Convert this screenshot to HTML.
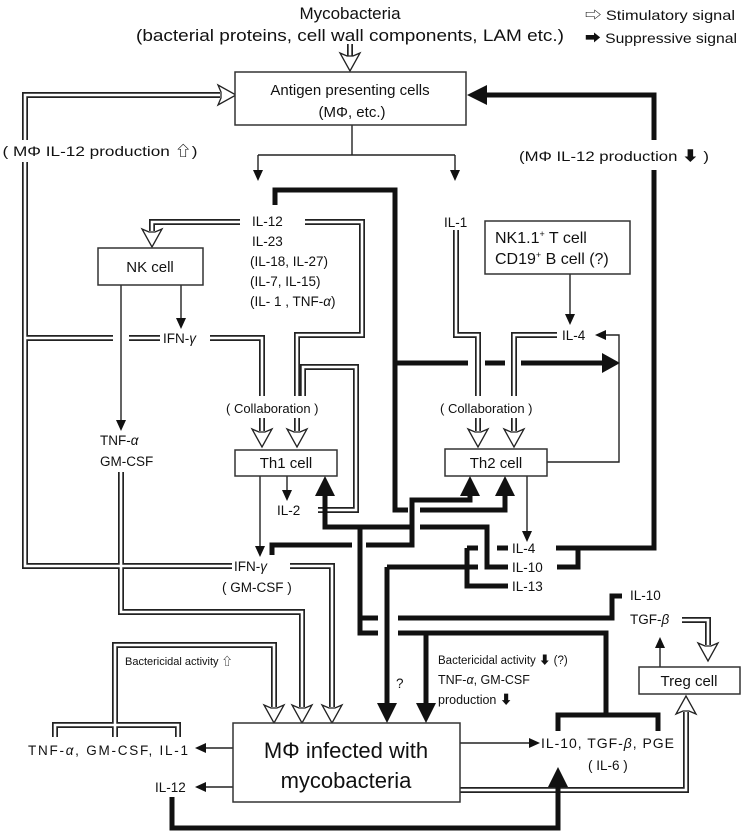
<!DOCTYPE html>
<html><head><meta charset="utf-8"><style>
html,body{margin:0;padding:0;background:#fff}
svg{display:block}
text{font-family:"Liberation Sans","Noto Sans CJK JP",sans-serif;fill:#111}
.db1{fill:none;stroke:#222;stroke-width:6}
.db2{fill:none;stroke:#fff;stroke-width:2.6}
.tk{fill:none;stroke:#111;stroke-width:5}
.tn{fill:none;stroke:#222;stroke-width:1.4}
.box{fill:#fff;stroke:#333;stroke-width:1.5}
.ha{fill:#fff;stroke:#222;stroke-width:1.3}
.fa{fill:#111}
</style></head><body>
<svg width="746" height="838" viewBox="0 0 746 838" xmlns="http://www.w3.org/2000/svg">
<defs>
<path id="A" d="M350 44V56"/>
<path id="B" d="M240 222H152V231"/>
<path id="C" d="M305 222H362V335H297V396M297 418V431"/>
<path id="D" d="M318 510H356V367H303V396"/>
<path id="E" d="M210 338H262V396M262 418V431"/>
<path id="F" d="M160 338H25M232 566H25V95H220"/>
<path id="G" d="M456 230V335H478V396M478 418V431"/>
<path id="H" d="M557 335H514V396M514 418V431"/>
<path id="I" d="M121 472V612H302V707"/>
<path id="J" d="M290 566H332V707"/>
<path id="K" d="M178 737V725H55V737M115 737V725M115 725V645H274V707"/>
<path id="L" d="M682 620H708V645"/>
<path id="M" d="M460 790H686V712"/>
</defs>
<g class="db1"><use href="#A"/><use href="#B"/><use href="#C"/><use href="#D"/><use href="#E"/><use href="#F"/><use href="#G"/><use href="#H"/><use href="#I"/><use href="#J"/><use href="#K"/><use href="#L"/><use href="#M"/></g>
<g class="db2"><use href="#A"/><use href="#B"/><use href="#C"/><use href="#D"/><use href="#E"/><use href="#F"/><use href="#G"/><use href="#H"/><use href="#I"/><use href="#J"/><use href="#K"/><use href="#L"/><use href="#M"/></g>
<rect x="2" y="140" width="198" height="22" fill="#fff"/>
<rect x="113" y="332" width="16" height="12" fill="#fff"/>

<g class="tk">
<path d="M275 205V190H395V510H408M420 510H505V490"/>
<path d="M395 363H468M485 363H505M521 363H606"/>
<path d="M325 492V527H410M420 527H487V567H508"/>
<path d="M272 555V545H352M366 545H412V500H470V492"/>
<path d="M360 527V633H378M360 618H378M398 618H612V596H622M398 633H606V715M558 731V715H658V731M426 633V706"/>
<path d="M387 567H478M387 567V706"/>
<path d="M467 548V586H508M467 548H478M497 548H508"/>
<path d="M556 548H654V170M654 140V95H485M557 567H578V548"/>
<path d="M172 797V828H558V785"/>
</g>
<g class="fa">
<polygon points="325,476 315,496 335,496"/>
<polygon points="505,476 495,496 515,496"/>
<polygon points="470,476 460,496 480,496"/>
<polygon points="620,363 602,353 602,373"/>
<polygon points="426,723 416,703 436,703"/>
<polygon points="387,723 377,703 397,703"/>
<polygon points="467,95 487,85 487,105"/>
<polygon points="558,767 548,787 568,787"/>
</g>

<g class="tn">
<path d="M352 125V155M258 155H455M258 155V174M455 155V174"/>
<path d="M181 285V322"/><path d="M121 285V424"/><path d="M570 274V318"/>
<path d="M547 462H619V335H602"/>
<path d="M287 476V494"/><path d="M260 476V550"/><path d="M527 476V535"/>
<path d="M233 748H202M233 787H202M460 743H532M660 667V644"/>
</g>
<g class="fa">
<polygon points="258,181 253,170 263,170"/><polygon points="455,181 450,170 460,170"/>
<polygon points="181,329 176,318 186,318"/><polygon points="121,431 116,420 126,420"/>
<polygon points="570,325 565,314 575,314"/><polygon points="595,335 606,330 606,340"/>
<polygon points="287,501 282,490 292,490"/><polygon points="260,557 255,546 265,546"/>
<polygon points="527,542 522,531 532,531"/>
<polygon points="195,748 206,743 206,753"/><polygon points="195,787 206,782 206,792"/>
<polygon points="540,743 529,738 529,748"/><polygon points="660,637 655,648 665,648"/>
</g>

<g class="ha">
<polygon points="340,53 347,56 353,56 360,53 350,71"/>
<polygon points="142,229 149,232 155,232 162,229 152,247"/>
<polygon points="252,429 259,432 265,432 272,429 262,447"/>
<polygon points="287,429 294,432 300,432 307,429 297,447"/>
<polygon points="468,429 475,432 481,432 488,429 478,447"/>
<polygon points="504,429 511,432 517,432 524,429 514,447"/>
<polygon points="264,705 271,708 277,708 284,705 274,723"/>
<polygon points="292,705 299,708 305,708 312,705 302,723"/>
<polygon points="322,705 329,708 335,708 342,705 332,723"/>
<polygon points="698,643 705,646 711,646 718,643 708,661"/>
<polygon points="218,85 221,92 221,98 218,105 236,95"/>
<polygon points="676,714 683,711 689,711 696,714 686,696"/>
</g>

<rect class="box" x="235" y="72" width="231" height="53"/>
<rect class="box" x="98" y="248" width="105" height="37"/>
<rect class="box" x="485" y="221" width="145" height="53"/>
<rect class="box" x="235" y="450" width="102" height="26"/>
<rect class="box" x="445" y="449" width="102" height="27"/>
<rect class="box" x="233" y="723" width="227" height="79"/>
<rect class="box" x="639" y="667" width="101" height="27"/>

<text x="350" y="19" font-size="17" text-anchor="middle">Mycobacteria</text>
<text x="350" y="41" font-size="17" text-anchor="middle" textLength="428" lengthAdjust="spacingAndGlyphs">(bacterial proteins, cell wall components, LAM etc.)</text>
<text x="585" y="20" font-size="14" textLength="150" lengthAdjust="spacingAndGlyphs">⇨ Stimulatory signal</text>
<text x="585" y="43" font-size="14" textLength="152" lengthAdjust="spacingAndGlyphs">➡ Suppressive signal</text>
<text x="350" y="95" font-size="15" text-anchor="middle">Antigen presenting cells</text>
<text x="352" y="117" font-size="15" text-anchor="middle">(MΦ, etc.)</text>
<text x="100" y="156" font-size="14" text-anchor="middle" textLength="195" lengthAdjust="spacingAndGlyphs">( MΦ IL-12 production ⇧)</text>
<text x="614" y="161" font-size="14" text-anchor="middle" textLength="190" lengthAdjust="spacingAndGlyphs">(MΦ IL-12 production ⬇ )</text>
<g font-size="13.5">
<text x="252" y="226">IL-12</text>
<text x="252" y="246">IL-23</text>
<text x="250" y="266">(IL-18, IL-27)</text>
<text x="250" y="286">(IL-7, IL-15)</text>
<text x="250" y="306">(IL- 1 , TNF-<tspan font-style="italic">α</tspan>)</text>
<text x="444" y="227">IL-1</text>
<text x="163" y="343">IFN-<tspan font-style="italic">γ</tspan></text>
<text x="562" y="340">IL-4</text>
<text x="100" y="445">TNF-<tspan font-style="italic">α</tspan></text>
<text x="100" y="466">GM-CSF</text>
<text x="277" y="515">IL-2</text>
<text x="234" y="571">IFN-<tspan font-style="italic">γ</tspan></text>
<text x="222" y="592">( GM-CSF )</text>
<text x="512" y="553">IL-4</text>
<text x="512" y="572">IL-10</text>
<text x="512" y="591">IL-13</text>
<text x="630" y="600">IL-10</text>
<text x="630" y="624">TGF-<tspan font-style="italic">β</tspan></text>
<text x="28" y="755" textLength="160" lengthAdjust="spacing">TNF-<tspan font-style="italic">α</tspan>,  GM-CSF,  IL-1</text>
<text x="155" y="792">IL-12</text>
<text x="541" y="748" font-size="14" textLength="133" lengthAdjust="spacing">IL-10,  TGF-<tspan font-style="italic">β</tspan>,  PGE</text>
<text x="588" y="770">( IL-6 )</text>
<text x="396" y="688">?</text>
</g>
<text x="226" y="413" font-size="13">( Collaboration )</text>
<text x="440" y="413" font-size="13">( Collaboration )</text>
<text x="150" y="272" font-size="15" text-anchor="middle">NK cell</text>
<text x="495" y="243" font-size="16">NK1.1<tspan font-size="9" dy="-6">+</tspan><tspan dy="6"> T cell</tspan></text>
<text x="495" y="264" font-size="16">CD19<tspan font-size="9" dy="-6">+</tspan><tspan dy="6"> B cell (?)</tspan></text>
<text x="286" y="468" font-size="15" text-anchor="middle">Th1 cell</text>
<text x="496" y="468" font-size="15" text-anchor="middle">Th2 cell</text>
<text x="346" y="758" font-size="22" text-anchor="middle">MΦ infected with</text>
<text x="346" y="788" font-size="22" text-anchor="middle">mycobacteria</text>
<text x="689" y="686" font-size="15" text-anchor="middle">Treg cell</text>
<text x="125" y="665" font-size="11">Bactericidal activity ⇧</text>
<text x="438" y="664" font-size="11.5">Bactericidal activity ⬇ (?)</text>
<text x="438" y="684" font-size="12.5">TNF-<tspan font-style="italic">α</tspan>, GM-CSF</text>
<text x="438" y="704" font-size="12.5">production ⬇</text>
</svg>
</body></html>
